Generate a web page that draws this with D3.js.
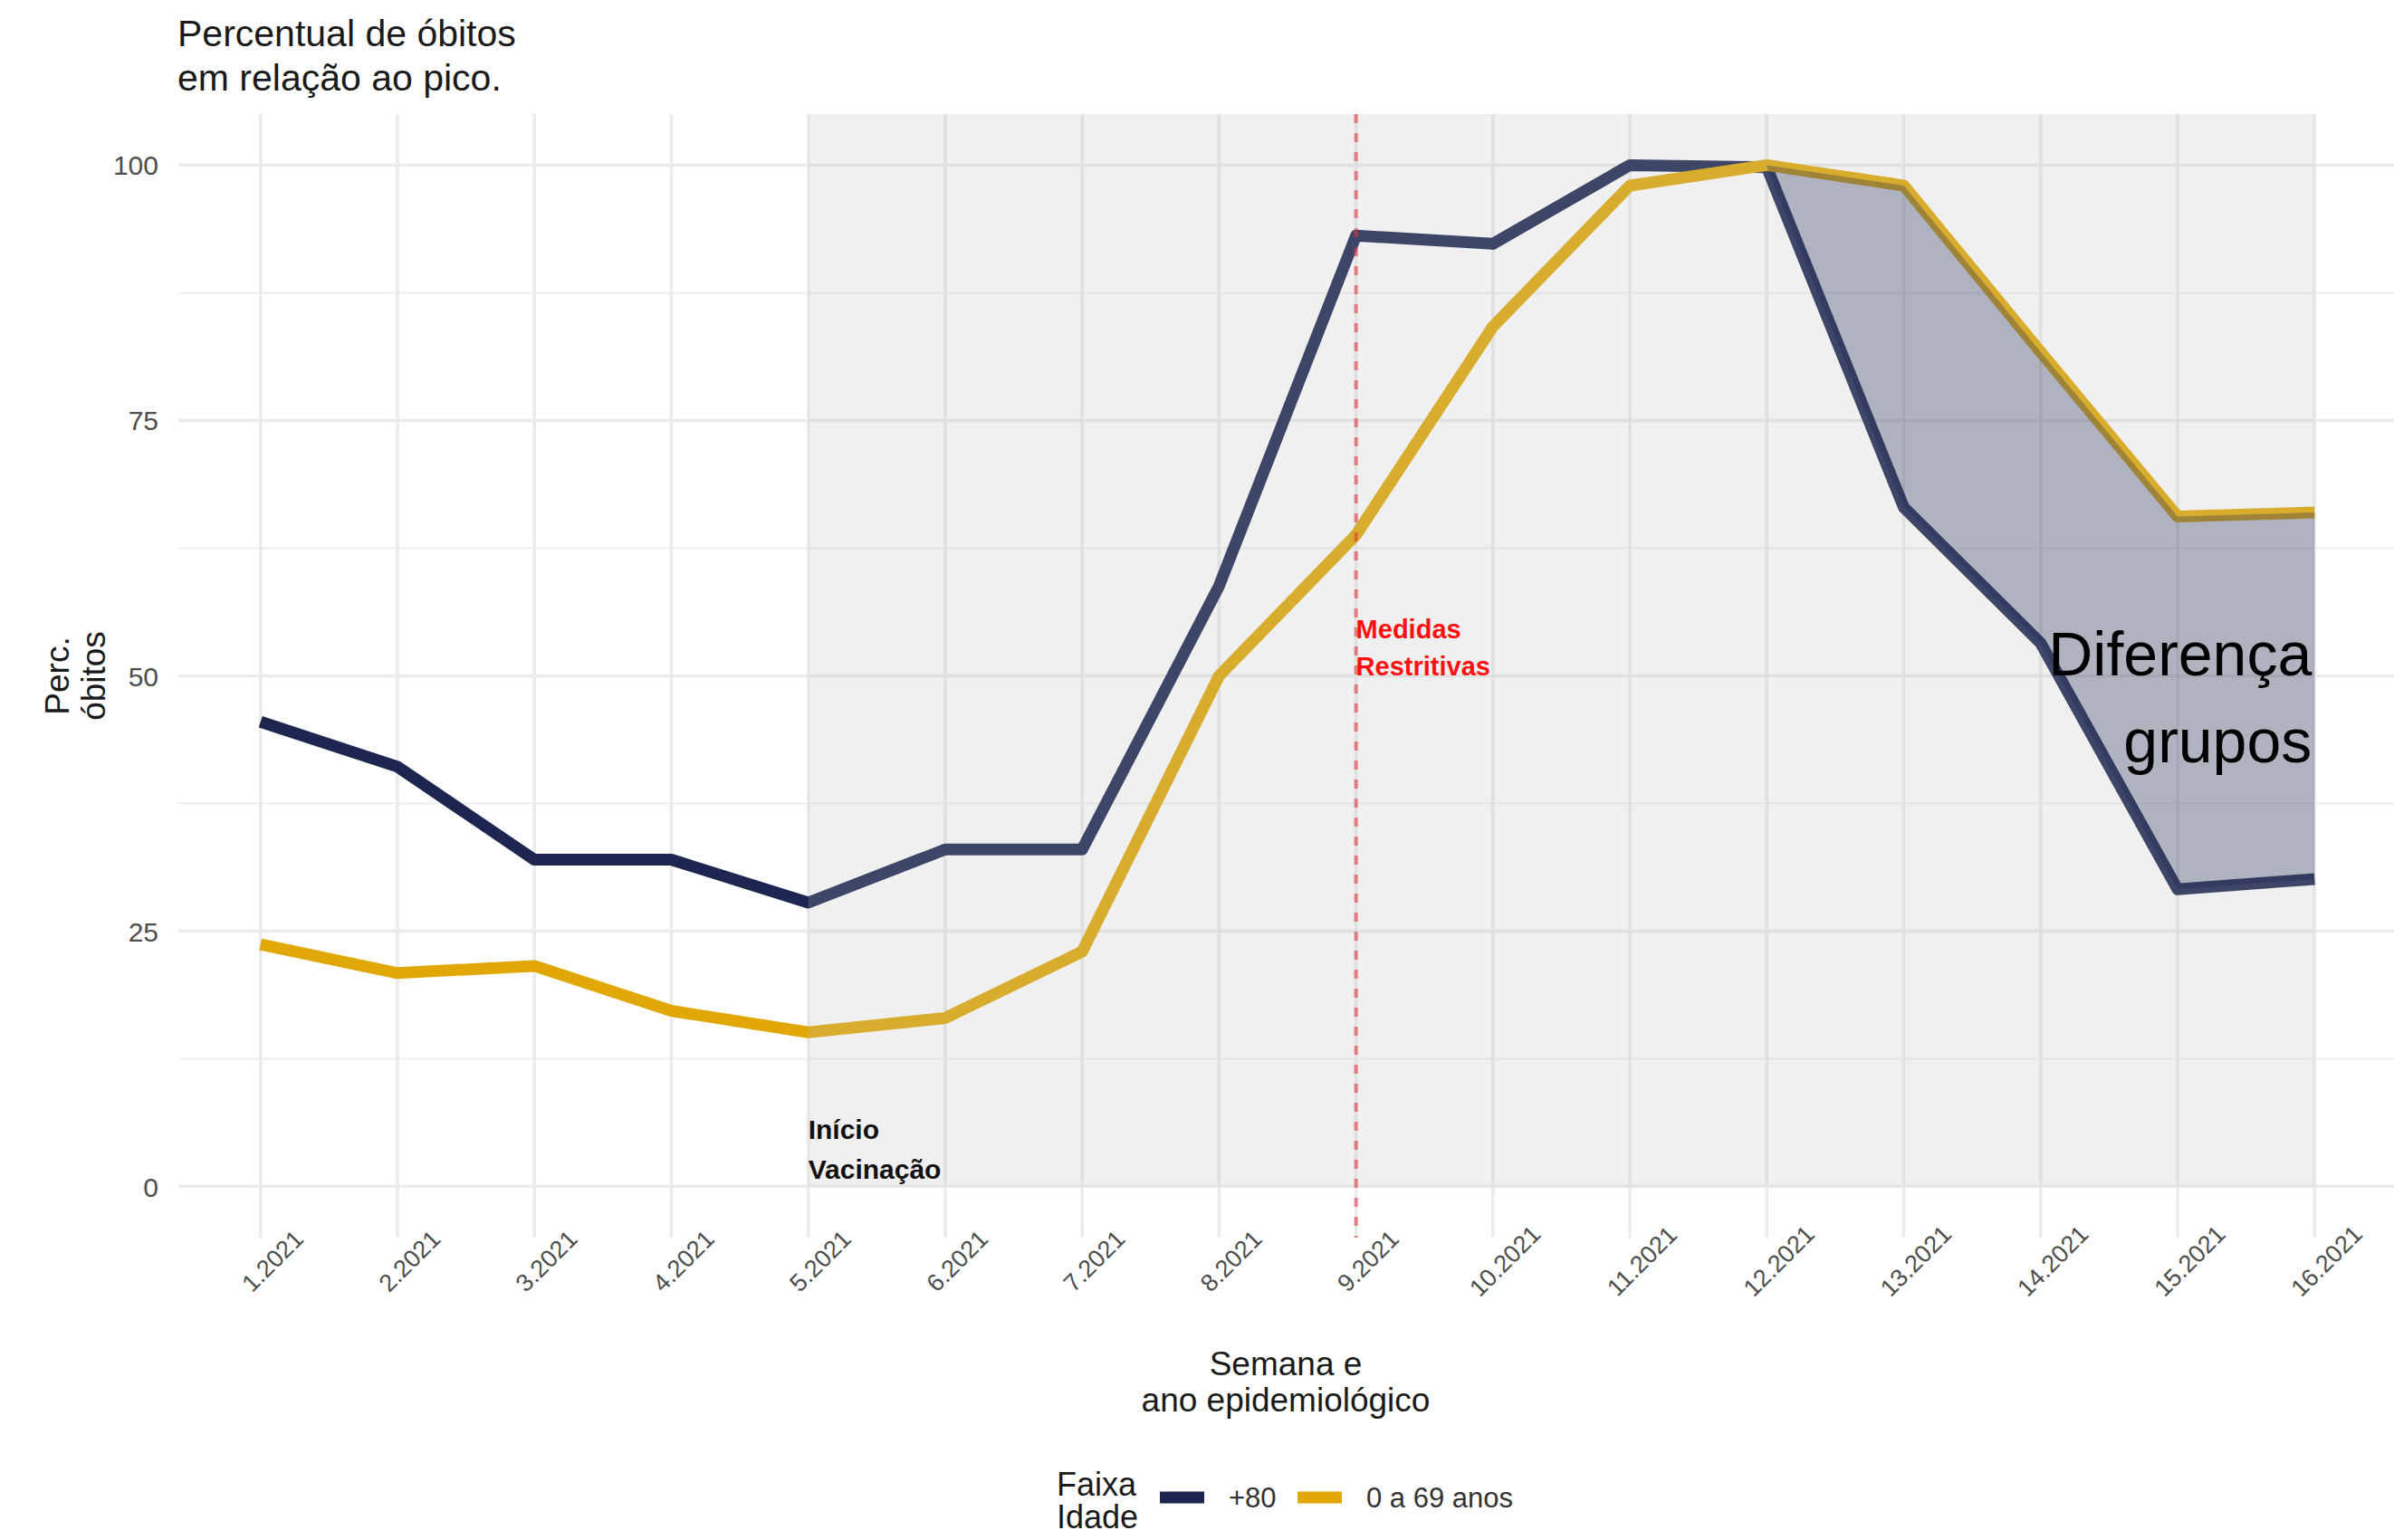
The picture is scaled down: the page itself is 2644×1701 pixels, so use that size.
<!DOCTYPE html>
<html>
<head>
<meta charset="utf-8">
<script src="https://cdn.jsdelivr.net/npm/d3@7"></script>
<style>
  html, body { margin: 0; padding: 0; background: #ffffff; }
  svg { display: block; font-family: "Liberation Sans", Arial, sans-serif; }
</style>
</head>
<body>
<svg id="chart" width="2644" height="1701"></svg>
<script>
// ---------- data ----------
const weeks = ["1.2021","2.2021","3.2021","4.2021","5.2021","6.2021","7.2021","8.2021",
               "9.2021","10.2021","11.2021","12.2021","13.2021","14.2021","15.2021","16.2021"];
const seriesNames = ["+80", "0 a 69 anos"];
const mais80  = [45.5, 41.1, 32.0, 32.0, 27.8, 33.0, 33.0, 58.8, 93.1, 92.3, 100, 99.8, 66.5, 53.2, 29.1, 30.1];
const ate69   = [23.7, 20.9, 21.6, 17.2, 15.1, 16.5, 23.0, 50.0, 63.8, 84.2, 98.0, 100, 98.0, 81.7, 65.6, 66.0];
const yTicks = [0, 25, 50, 75, 100];
const yMinor = [12.5, 37.5, 62.5, 87.5];
const vacinaWeek = "5.2021";
const medidasWeek = "9.2021";
const ribbonWeeks = ["12.2021","13.2021","14.2021","15.2021","16.2021"];
const shadeEnd = "16.2021";

// ---------- layout / style ----------
const W = 2644, H = 1701;
const panel = { left: 197, right: 2647, top: 126, bottom: 1367 };
const colors = { "+80": "#1C2651", "0 a 69 anos": "#E1A805" };
const font = '"Liberation Sans", Arial, sans-serif';

const svg = d3.select("#chart");

const x = d3.scalePoint().domain(weeks).range([panel.left, panel.right]).padding(0.6);
const y = d3.scaleLinear().domain([-5, 105]).range([panel.bottom, panel.top]);

// ---------- grid ----------
const grid = svg.append("g");
grid.selectAll("line.minor").data(yMinor).join("line")
  .attr("x1", panel.left).attr("x2", panel.right)
  .attr("y1", d => y(d)).attr("y2", d => y(d))
  .attr("stroke", "#ededed").attr("stroke-width", 2);
grid.selectAll("line.major").data(yTicks).join("line")
  .attr("x1", panel.left).attr("x2", panel.right)
  .attr("y1", d => y(d)).attr("y2", d => y(d))
  .attr("stroke", "#ebebeb").attr("stroke-width", 3.5);
grid.selectAll("line.vmajor").data(weeks).join("line")
  .attr("x1", d => x(d)).attr("x2", d => x(d))
  .attr("y1", panel.top).attr("y2", panel.bottom)
  .attr("stroke", "#ebebeb").attr("stroke-width", 3.5);

// ---------- lines ----------
const series = [
  { name: seriesNames[0], values: mais80 },
  { name: seriesNames[1], values: ate69 }
];
const line = d3.line()
  .x((d, i) => x(weeks[i]))
  .y(d => y(d));
svg.append("g").selectAll("path").data(series).join("path")
  .attr("d", d => line(d.values))
  .attr("fill", "none")
  .attr("stroke", d => colors[d.name])
  .attr("stroke-width", 13)
  .attr("stroke-linejoin", "round")
  .attr("stroke-linecap", "butt");

// ---------- shaded period (drawn over lines, semi transparent) ----------
svg.append("rect")
  .attr("x", x(vacinaWeek))
  .attr("width", x(shadeEnd) - x(vacinaWeek))
  .attr("y", panel.top)
  .attr("height", y(0) - panel.top)
  .attr("fill", "#bcbcbc")
  .attr("fill-opacity", 0.22);

// ---------- vertical dashed line ----------
svg.append("line")
  .attr("x1", x(medidasWeek)).attr("x2", x(medidasWeek))
  .attr("y1", panel.top).attr("y2", panel.bottom)
  .attr("stroke", "#E2333E").attr("stroke-opacity", 0.6)
  .attr("stroke-width", 4).attr("stroke-dasharray", "10,11");

// ---------- ribbon ----------
const ribbonIdx = ribbonWeeks.map(w => weeks.indexOf(w));
const area = d3.area()
  .x(i => x(weeks[i]))
  .y0(i => y(mais80[i]))
  .y1(i => y(ate69[i]));
svg.append("path")
  .attr("d", area(ribbonIdx))
  .attr("fill", "#1C2651")
  .attr("fill-opacity", 0.3);

// ---------- annotations ----------
const ann = svg.append("g").attr("font-family", font);
ann.append("text").attr("x", x(vacinaWeek)).attr("y", 1258)
  .attr("font-size", 30).attr("font-weight", "bold").attr("fill", "#111").text("Início");
ann.append("text").attr("x", x(vacinaWeek)).attr("y", 1302)
  .attr("font-size", 30).attr("font-weight", "bold").attr("fill", "#111").text("Vacinação");
ann.append("text").attr("x", x(medidasWeek)).attr("y", 705)
  .attr("font-size", 29).attr("font-weight", "bold").attr("fill", "#ff1010").text("Medidas");
ann.append("text").attr("x", x(medidasWeek)).attr("y", 746)
  .attr("font-size", 29).attr("font-weight", "bold").attr("fill", "#ff1010").text("Restritivas");
ann.append("text").attr("x", x(shadeEnd) - 3).attr("y", 746)
  .attr("font-size", 68).attr("text-anchor", "end").attr("fill", "#000").text("Diferença");
ann.append("text").attr("x", x(shadeEnd) - 3).attr("y", 842)
  .attr("font-size", 68).attr("text-anchor", "end").attr("fill", "#000").text("grupos");

// ---------- axes ----------
const yAxis = d3.axisLeft(y).tickValues(yTicks).tickSize(0).tickPadding(0);
const gy = svg.append("g").attr("transform", `translate(175,0)`).call(yAxis);
gy.select(".domain").remove();
gy.selectAll("text").attr("font-size", 30).attr("fill", "#4d4d4d")
  .attr("font-family", font).attr("dy", "0.35em");

const xAxis = d3.axisBottom(x).tickSize(0).tickPadding(0);
const gx = svg.append("g").attr("transform", `translate(0,${panel.bottom})`).call(xAxis);
gx.select(".domain").remove();
gx.selectAll("text")
  .attr("font-size", 27).attr("fill", "#4d4d4d").attr("font-family", font)
  .attr("text-anchor", "middle").attr("dy", null).attr("y", null)
  .attr("dominant-baseline", "central")
  .attr("transform", "translate(13,26) rotate(-45)");

// ---------- titles ----------
const t = svg.append("g").attr("font-family", font).attr("fill", "#1a1a1a");
t.append("text").attr("x", 196).attr("y", 51).attr("font-size", 41).text("Percentual de óbitos");
t.append("text").attr("x", 196).attr("y", 100).attr("font-size", 41).text("em relação ao pico.");

const cx = (panel.left + panel.right) / 2;
t.append("text").attr("x", cx - 2).attr("y", 1519).attr("font-size", 37)
  .attr("text-anchor", "middle").text("Semana e");
t.append("text").attr("x", cx - 2).attr("y", 1559).attr("font-size", 37)
  .attr("text-anchor", "middle").text("ano epidemiológico");

const ymid = (panel.top + panel.bottom) / 2;
t.append("text").attr("transform", `translate(76,${ymid}) rotate(-90)`)
  .attr("font-size", 37).attr("text-anchor", "middle").text("Perc.");
t.append("text").attr("transform", `translate(116,${ymid}) rotate(-90)`)
  .attr("font-size", 37).attr("text-anchor", "middle").text("óbitos");

// ---------- legend ----------
const lg = svg.append("g").attr("font-family", font);
lg.append("text").attr("x", 1167).attr("y", 1652).attr("font-size", 36).attr("fill", "#1a1a1a").text("Faixa");
lg.append("text").attr("x", 1167).attr("y", 1688).attr("font-size", 36).attr("fill", "#1a1a1a").text("Idade");
const legendX = [1281, 1433];
const items = lg.selectAll("g.item").data(seriesNames).join("g")
  .attr("transform", (d, i) => `translate(${legendX[i]},1654)`);
items.append("line").attr("x1", 0).attr("x2", 49).attr("y1", 0).attr("y2", 0)
  .attr("stroke", d => colors[d]).attr("stroke-width", 13);
items.append("text").attr("x", 76).attr("y", 0).attr("dy", "0.35em")
  .attr("font-size", 31).attr("fill", "#333").text(d => d);
</script>
</body>
</html>
